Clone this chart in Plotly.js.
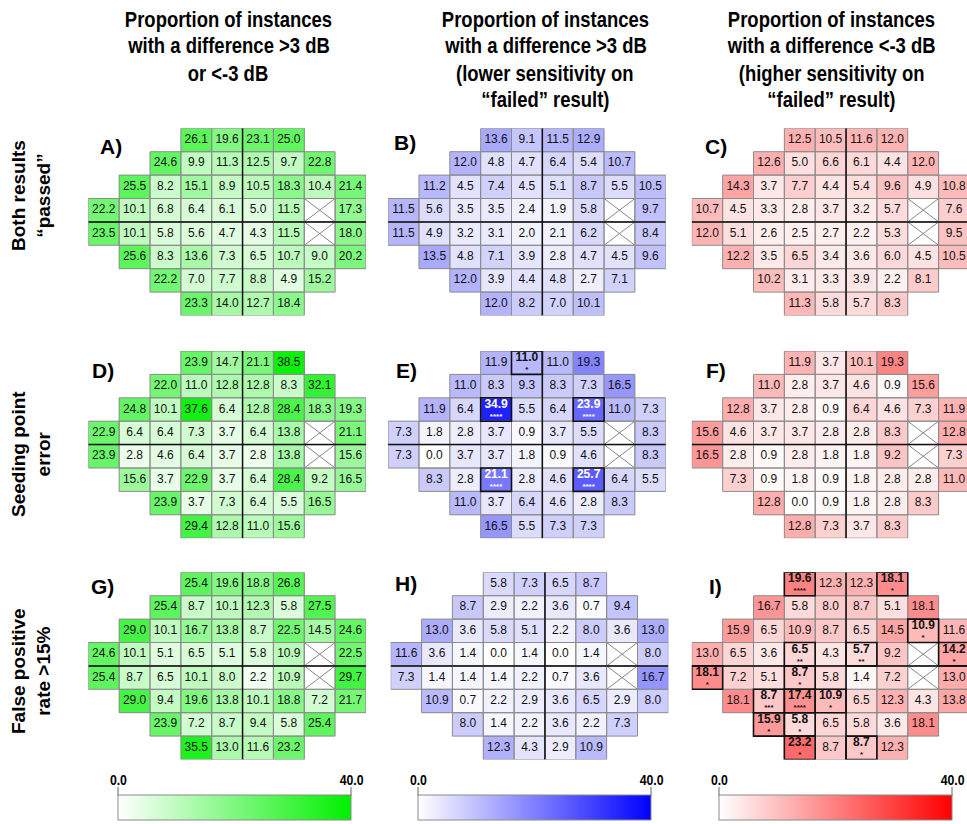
<!DOCTYPE html>
<html><head><meta charset="utf-8">
<script src="https://cdn.plot.ly/plotly-3.0.1.min.js"></script>
<style>body{margin:0;padding:0;background:#fff}#chart{width:967px;height:824px}</style>
</head><body><div id="chart"></div>
<script>
// ---------- DATA ----------
// 24-2 grid rows (top to bottom); each row starts at the given column; null = blind spot
const rowStarts = [3, 2, 1, 0, 0, 1, 2, 3];

const A_vals = [
  [26.1, 19.6, 23.1, 25.0],
  [24.6, 9.9, 11.3, 12.5, 9.7, 22.8],
  [25.5, 8.2, 15.1, 8.9, 10.5, 18.3, 10.4, 21.4],
  [22.2, 10.1, 6.8, 6.4, 6.1, 5.0, 11.5, null, 17.3],
  [23.5, 10.1, 5.8, 5.6, 4.7, 4.3, 11.5, null, 18.0],
  [25.6, 8.3, 13.6, 7.3, 6.5, 10.7, 9.0, 20.2],
  [22.2, 7.0, 7.7, 8.8, 4.9, 15.2],
  [23.3, 14.0, 12.7, 18.4]
];
const B_vals = [
  [13.6, 9.1, 11.5, 12.9],
  [12.0, 4.8, 4.7, 6.4, 5.4, 10.7],
  [11.2, 4.5, 7.4, 4.5, 5.1, 8.7, 5.5, 10.5],
  [11.5, 5.6, 3.5, 3.5, 2.4, 1.9, 5.8, null, 9.7],
  [11.5, 4.9, 3.2, 3.1, 2.0, 2.1, 6.2, null, 8.4],
  [13.5, 4.8, 7.1, 3.9, 2.8, 4.7, 4.5, 9.6],
  [12.0, 3.9, 4.4, 4.8, 2.7, 7.1],
  [12.0, 8.2, 7.0, 10.1]
];
const C_vals = [
  [12.5, 10.5, 11.6, 12.0],
  [12.6, 5.0, 6.6, 6.1, 4.4, 12.0],
  [14.3, 3.7, 7.7, 4.4, 5.4, 9.6, 4.9, 10.8],
  [10.7, 4.5, 3.3, 2.8, 3.7, 3.2, 5.7, null, 7.6],
  [12.0, 5.1, 2.6, 2.5, 2.7, 2.2, 5.3, null, 9.5],
  [12.2, 3.5, 6.5, 3.4, 3.6, 6.0, 4.5, 10.5],
  [10.2, 3.1, 3.3, 3.9, 2.2, 8.1],
  [11.3, 5.8, 5.7, 8.3]
];
const D_vals = [
  [23.9, 14.7, 21.1, 38.5],
  [22.0, 11.0, 12.8, 12.8, 8.3, 32.1],
  [24.8, 10.1, 37.6, 6.4, 12.8, 28.4, 18.3, 19.3],
  [22.9, 6.4, 6.4, 7.3, 3.7, 6.4, 13.8, null, 21.1],
  [23.9, 2.8, 4.6, 6.4, 3.7, 2.8, 13.8, null, 15.6],
  [15.6, 3.7, 22.9, 3.7, 6.4, 28.4, 9.2, 16.5],
  [23.9, 3.7, 7.3, 6.4, 5.5, 16.5],
  [29.4, 12.8, 11.0, 15.6]
];
const E_vals = [
  [11.9, 11.0, 11.0, 19.3],
  [11.0, 8.3, 9.3, 8.3, 7.3, 16.5],
  [11.9, 6.4, 34.9, 5.5, 6.4, 23.9, 11.0, 7.3],
  [7.3, 1.8, 2.8, 3.7, 0.9, 3.7, 5.5, null, 8.3],
  [7.3, 0.0, 3.7, 3.7, 1.8, 0.9, 4.6, null, 8.3],
  [8.3, 2.8, 21.1, 2.8, 4.6, 25.7, 6.4, 5.5],
  [11.0, 3.7, 6.4, 4.6, 2.8, 8.3],
  [16.5, 5.5, 7.3, 7.3]
];
const E_sig = [
  ["", "*", "", ""],
  ["", "", "", "", "", ""],
  ["", "", "****", "", "", "****", "", ""],
  ["", "", "", "", "", "", "", "", ""],
  ["", "", "", "", "", "", "", "", ""],
  ["", "", "****", "", "", "****", "", ""],
  ["", "", "", "", "", ""],
  ["", "", "", ""]
];
const F_vals = [
  [11.9, 3.7, 10.1, 19.3],
  [11.0, 2.8, 3.7, 4.6, 0.9, 15.6],
  [12.8, 3.7, 2.8, 0.9, 6.4, 4.6, 7.3, 11.9],
  [15.6, 4.6, 3.7, 3.7, 2.8, 2.8, 8.3, null, 12.8],
  [16.5, 2.8, 0.9, 2.8, 1.8, 1.8, 9.2, null, 7.3],
  [7.3, 0.9, 1.8, 0.9, 1.8, 2.8, 2.8, 11.0],
  [12.8, 0.0, 0.9, 1.8, 2.8, 8.3],
  [12.8, 7.3, 3.7, 8.3]
];
const G_vals = [
  [25.4, 19.6, 18.8, 26.8],
  [25.4, 8.7, 10.1, 12.3, 5.8, 27.5],
  [29.0, 10.1, 16.7, 13.8, 8.7, 22.5, 14.5, 24.6],
  [24.6, 10.1, 5.1, 6.5, 5.1, 5.8, 10.9, null, 22.5],
  [25.4, 8.7, 6.5, 10.1, 8.0, 2.2, 10.9, null, 29.7],
  [29.0, 9.4, 19.6, 13.8, 10.1, 18.8, 7.2, 21.7],
  [23.9, 7.2, 8.7, 9.4, 5.8, 25.4],
  [35.5, 13.0, 11.6, 23.2]
];
const H_vals = [
  [5.8, 7.3, 6.5, 8.7],
  [8.7, 2.9, 2.2, 3.6, 0.7, 9.4],
  [13.0, 3.6, 5.8, 5.1, 2.2, 8.0, 3.6, 13.0],
  [11.6, 3.6, 1.4, 0.0, 1.4, 0.0, 1.4, null, 8.0],
  [7.3, 1.4, 1.4, 1.4, 2.2, 0.7, 3.6, null, 16.7],
  [10.9, 0.7, 2.2, 2.9, 3.6, 6.5, 2.9, 8.0],
  [8.0, 1.4, 2.2, 3.6, 2.2, 7.3],
  [12.3, 4.3, 2.9, 10.9]
];
const I_vals = [
  [19.6, 12.3, 12.3, 18.1],
  [16.7, 5.8, 8.0, 8.7, 5.1, 18.1],
  [15.9, 6.5, 10.9, 8.7, 6.5, 14.5, 10.9, 11.6],
  [13.0, 6.5, 3.6, 6.5, 4.3, 5.7, 9.2, null, 14.2],
  [18.1, 7.2, 5.1, 8.7, 5.8, 1.4, 7.2, null, 13.0],
  [18.1, 8.7, 17.4, 10.9, 6.5, 12.3, 4.3, 13.8],
  [15.9, 5.8, 6.5, 5.8, 3.6, 18.1],
  [23.2, 8.7, 8.7, 12.3]
];
const I_sig = [
  ["****", "", "", "*"],
  ["", "", "", "", "", ""],
  ["", "", "", "", "", "", "*", ""],
  ["", "", "", "**", "", "**", "", "", "*"],
  ["*", "", "", "*", "", "", "", "", ""],
  ["", "***", "****", "*", "", "", "", ""],
  ["*", "*", "", "", "", ""],
  ["*", "", "*", ""]
];

const panelLabels = ["A)", "B)", "C)", "D)", "E)", "F)", "G)", "H)", "I)"];
const colTitles = [
  ["Proportion of instances", "with a difference >3 dB", "or <-3 dB"],
  ["Proportion of instances", "with a difference >3 dB", "(lower sensitivity on", "\u201cfailed\u201d result)"],
  ["Proportion of instances", "with a difference <-3 dB", "(higher sensitivity on", "\u201cfailed\u201d result)"]
];
const rowTitles = [
  "Both results<br>\u201cpassed\u201d",
  "Seeding point<br>error",
  "False positive<br>rate >15%"
];
const cbMin = 0, cbMax = 40;
const cbTickText = ["0.0", "40.0"];

// ---------- LAYOUT / STYLE ----------
const W = 967, H = 824;
const CELL_W = 30.85, CELL_H = 23.4;
const colLeft = [88.3, 388.1, 691.8];
const rowTop = [128.3, 351.0, 572.3];
const scales = [
  [[0, '#ffffff'], [1, '#00f000']],
  [[0, '#ffffff'], [1, '#0000ff']],
  [[0, '#ffffff'], [1, '#ff0000']]
];
const FONT = 'Liberation Sans, Arial, sans-serif';

const panels = [
  {vals: A_vals, sig: null}, {vals: B_vals, sig: null}, {vals: C_vals, sig: null},
  {vals: D_vals, sig: null}, {vals: E_vals, sig: E_sig}, {vals: F_vals, sig: null},
  {vals: G_vals, sig: null}, {vals: H_vals, sig: null}, {vals: I_vals, sig: I_sig}
];

const data = [], shapes = [], annotations = [];
const layout = {
  width: W, height: H, margin: {l: 0, r: 0, t: 0, b: 0},
  paper_bgcolor: '#fff', plot_bgcolor: 'rgba(0,0,0,0)', showlegend: false,
  font: {family: FONT, color: '#000'}
};

panels.forEach((p, i) => {
  const pr = Math.floor(i / 3), pc = i % 3, n = i + 1;
  const sfx = n === 1 ? '' : String(n);
  const xa = 'x' + sfx, ya = 'y' + sfx;
  const left = colLeft[pc] + (i === 7 ? 2.6 : 0);
  const top = rowTop[pr];
  const rightPx = Math.min(W, left + 9 * CELL_W);
  const xr1 = -0.5 + (rightPx - left) / CELL_W;
  layout['xaxis' + sfx] = {domain: [left / W, rightPx / W], range: [-0.5, xr1], visible: false, anchor: ya, fixedrange: true};
  layout['yaxis' + sfx] = {domain: [1 - (top + 8 * CELL_H) / H, 1 - top / H], range: [7.5, -0.5], visible: false, anchor: xa, fixedrange: true};

  const z = [];
  for (let r = 0; r < 8; r++) z.push(new Array(9).fill(null));
  const tx = [], ty = [], tt = [], tc = [];
  const sx = [], sy = [], st = [], sc = [];
  p.vals.forEach((row, r) => {
    row.forEach((v, k) => {
      const c = rowStarts[r] + k;
      const sig = p.sig ? p.sig[r][k] : "";
      shapes.push({type: 'rect', xref: xa, yref: ya, x0: c - 0.5, x1: c + 0.5, y0: r - 0.5, y1: r + 0.5,
        line: {color: '#8c8c8c', width: 1}, fillcolor: 'rgba(0,0,0,0)', layer: 'above'});
      if (v === null) {
        shapes.push({type: 'line', xref: xa, yref: ya, x0: c - 0.5, x1: c + 0.5, y0: r - 0.5, y1: r + 0.5, line: {color: '#888', width: 1}, layer: 'above'});
        shapes.push({type: 'line', xref: xa, yref: ya, x0: c - 0.5, x1: c + 0.5, y0: r + 0.5, y1: r - 0.5, line: {color: '#888', width: 1}, layer: 'above'});
        return;
      }
      z[r][c] = v;
      const white = (pc === 1 && v >= 20);
      const col = white ? '#ffffff' : '#111111';
      tx.push(c); tc.push(col);
      if (sig) {
        ty.push(r - 0.2);
        tt.push('<b>' + v.toFixed(1) + '</b>');
        sx.push(c); sy.push(r + 0.32); st.push(sig); sc.push(col);
      } else {
        ty.push(r);
        tt.push(v.toFixed(1));
      }
    });
  });
  data.push({type: 'heatmap', z: z, x: [0,1,2,3,4,5,6,7,8], y: [0,1,2,3,4,5,6,7], xaxis: xa, yaxis: ya,
    coloraxis: 'coloraxis' + (pc === 0 ? '' : pc + 1), hoverinfo: 'skip'});
  data.push({type: 'scatter', mode: 'text', x: tx, y: ty, text: tt, xaxis: xa, yaxis: ya,
    textfont: {family: FONT, size: 12, color: tc}, textposition: 'middle center', hoverinfo: 'skip', cliponaxis: true});
  if (sx.length) {
    data.push({type: 'scatter', mode: 'text', x: sx, y: sy, text: st, xaxis: xa, yaxis: ya,
      textfont: {family: FONT, size: 8, color: sc, weight: 'bold'}, textposition: 'middle center', hoverinfo: 'skip', cliponaxis: true});
    p.vals.forEach((row, r) => row.forEach((v, k) => {
      if (p.sig[r][k]) {
        const c = rowStarts[r] + k;
        shapes.push({type: 'rect', xref: xa, yref: ya, x0: c - 0.5, x1: c + 0.5, y0: r - 0.5, y1: r + 0.5,
          line: {color: '#111', width: 1.6}, fillcolor: 'rgba(0,0,0,0)', layer: 'above'});
      }
    }));
  }
  shapes.push({type: 'line', xref: xa, yref: ya, x0: 4.5, x1: 4.5, y0: -0.5, y1: 7.5, line: {color: '#111', width: 1.5}, layer: 'above'});
  shapes.push({type: 'line', xref: xa, yref: ya, x0: -0.5, x1: 8.5, y0: 3.5, y1: 3.5, line: {color: '#111', width: 1.5}, layer: 'above'});
});

// panel letters
const labelPos = [[111, 147], [405, 143], [716, 147], [103, 370], [406, 370], [716, 370], [102, 586], [406, 583], [715, 586]];
panelLabels.forEach((t, i) => {
  annotations.push({xref: 'paper', yref: 'paper', x: labelPos[i][0] / W, y: 1 - labelPos[i][1] / H,
    xanchor: 'center', yanchor: 'middle', text: t, showarrow: false,
    font: {family: FONT, size: 21, weight: 'bold', color: '#000'}});
});
// column titles: one annotation per line (condensed afterwards)
const titleX = [228, 545, 831];
const TITLE_START = annotations.length;
colTitles.forEach((lines, i) => {
  lines.forEach((t, k) => {
    annotations.push({xref: 'paper', yref: 'paper', x: titleX[i] / W, y: 1 - (19 + 27 * k) / H, xanchor: 'center', yanchor: 'middle',
      text: t, showarrow: false, align: 'center', font: {family: FONT, size: 22, weight: 'bold', color: '#000'}});
  });
});
const TITLE_END = annotations.length;
// row titles
const rowTitleY = [196, 454, 671];
rowTitles.forEach((t, i) => {
  annotations.push({xref: 'paper', yref: 'paper', x: 31 / W, y: 1 - rowTitleY[i] / H, xanchor: 'center', yanchor: 'middle',
    text: t, textangle: -90, showarrow: false, align: 'center', font: {family: FONT, size: 19, weight: 'bold', color: '#000'}});
});

// colour bars
const cbLeft = [118, 418, 719], cbLen = 233, cbTop = 796, cbBottom = 821;
const CB_START = annotations.length;
cbLeft.forEach((l, i) => {
  const key = 'coloraxis' + (i === 0 ? '' : i + 1);
  layout[key] = {cmin: cbMin, cmax: cbMax, colorscale: scales[i], showscale: true,
    colorbar: {orientation: 'h', x: (l + cbLen / 2) / W, xanchor: 'center', y: (H - cbBottom) / H, yanchor: 'bottom',
      len: cbLen, lenmode: 'pixels', thickness: cbBottom - cbTop, thicknessmode: 'pixels',
      showticklabels: false, ticks: '', outlinewidth: 1, outlinecolor: '#8a8a8a', xpad: 0, ypad: 0, borderwidth: 0}};
  [0, 1].forEach(j => {
    const xp = (l + j * cbLen) / W;
    annotations.push({xref: 'paper', yref: 'paper', x: xp, y: 1 - 779 / H, xanchor: 'center', yanchor: 'middle',
      text: cbTickText[j], showarrow: false, font: {family: FONT, size: 15, weight: 'bold', color: '#000'}});
    shapes.push({type: 'line', xref: 'paper', yref: 'paper', x0: xp, x1: xp, y0: 1 - 787 / H, y1: 1 - cbTop / H, line: {color: '#666', width: 1}});
  });
});
const CB_END = annotations.length;

layout.shapes = shapes;
layout.annotations = annotations;

function condense(idx, factor) {
  const g = document.querySelector('#chart .annotation[data-index="' + idx + '"] text.annotation-text');
  if (!g) return;
  const bb = g.getBBox();
  const cx = bb.x + bb.width / 2;
  g.setAttribute('transform', 'translate(' + cx + ',0) scale(' + factor + ',1) translate(' + (-cx) + ',0)');
}
Plotly.newPlot('chart', data, layout, {staticPlot: true, displayModeBar: false}).then(() => {
  for (let k = TITLE_START; k < TITLE_END; k++) condense(k, 0.84);
  for (let k = CB_START; k < CB_END; k++) condense(k, 0.82);
});
</script>
</body></html>
